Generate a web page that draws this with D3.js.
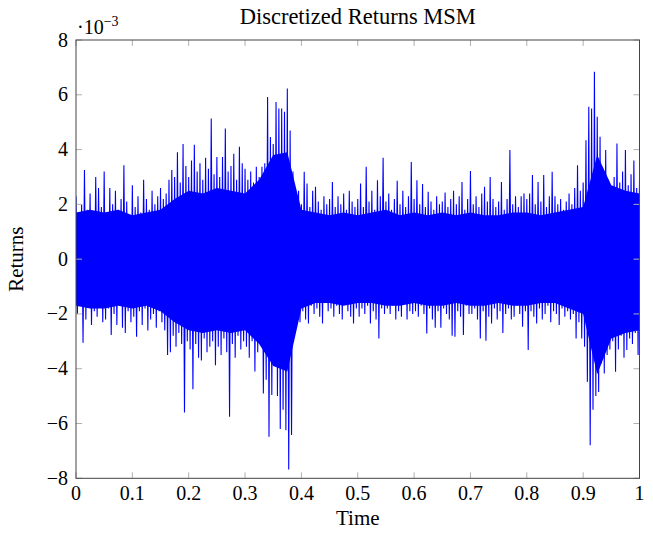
<!DOCTYPE html>
<html>
<head>
<meta charset="utf-8">
<script src="https://cdn.jsdelivr.net/npm/d3@7"></script>
<style>
  body { margin: 0; background: #fff; }
  text { font-family: "Liberation Serif", "DejaVu Serif", serif; fill: #000; }
</style>
</head>
<body>
<div id="chart-area"></div>
<script>
// upper and lower spike tips, one pair every 0.005 of time (in 1e-3 units)
var highs = [
    2.3, 1.6, 2.0, 3.25, 1.8, 2.4, 1.5, 3.0, 2.6, 1.9,
    3.2, 1.7, 2.6, 2.0, 2.5, 1.8, 2.2, 3.43, 2.1, 1.6,
    2.7, 1.9, 2.3, 1.7, 2.9, 2.2, 1.8, 2.5, 2.0, 2.3,
    2.6, 2.2, 2.4, 2.9, 3.25, 3.0, 3.9, 2.8, 4.2, 3.4,
    3.0, 3.6, 4.18, 3.2, 3.5, 2.9, 3.7, 3.3, 5.13, 3.1,
    3.73, 3.0, 3.73, 4.77, 3.2, 3.4, 3.85, 2.9, 4.1, 3.5,
    3.3, 2.9, 3.2, 2.8, 3.37, 3.0, 3.37, 3.5, 5.92, 4.46,
    4.2, 5.74, 5.5, 5.5, 5.38, 6.23, 4.7, 3.2, 2.2, 2.5,
    2.0, 3.19, 2.76, 1.9, 2.5, 2.64, 2.1, 1.8, 2.3, 2.0,
    2.2, 2.82, 1.9, 2.3, 2.0, 2.4, 1.8, 2.5, 2.1, 1.9,
    2.2, 2.76, 1.9, 3.37, 2.1, 2.5, 1.8, 2.88, 2.3, 3.7,
    2.1, 2.4, 1.8, 2.2, 2.86, 2.0, 2.5, 1.9, 2.3, 3.55,
    2.2, 2.88, 2.0, 2.74, 1.9, 2.46, 2.1, 1.8, 2.3, 2.0,
    2.1, 2.43, 1.9, 2.2, 2.5, 2.0, 2.3, 2.82, 1.8, 2.2,
    3.22, 2.0, 2.3, 1.9, 2.4, 2.64, 2.1, 3.0, 2.2, 1.9,
    2.1, 2.82, 1.8, 2.2, 3.98, 2.0, 2.3, 1.9, 2.3, 2.4,
    2.2, 2.4, 3.07, 2.0, 2.82, 2.1, 3.07, 1.9, 2.3, 3.19,
    2.3, 2.0, 2.2, 1.8, 2.1, 2.4, 2.0, 2.6, 3.43, 2.5,
    2.8, 4.34, 5.56, 5.5, 6.84, 5.2, 4.47, 3.3, 3.98, 2.9,
    2.5, 3.0, 4.22, 2.8, 3.2, 3.98, 2.7, 3.1, 3.6, 2.6, 2.9
];
var lows = [
    -2.0, -1.6, -3.05, -2.2, -1.7, -2.4, -1.9, -2.1, -1.6, -2.3,
    -2.2, -1.8, -2.77, -2.0, -2.4, -1.7, -2.5, -2.7, -1.9, -2.3,
    -2.1, -2.83, -1.9, -2.4, -1.8, -2.6, -2.2, -2.0, -2.5, -1.9,
    -2.3, -2.6, -3.5, -3.4, -2.8, -3.2, -2.7, -3.1, -5.6, -3.0,
    -3.3, -4.75, -3.1, -3.6, -3.7, -2.9, -3.4, -3.2, -3.0, -3.87,
    -3.2, -3.5, -2.9, -3.4, -5.75, -3.1, -3.6, -2.8, -3.3, -3.0,
    -3.2, -3.6, -3.0, -4.1, -3.4, -3.1, -4.9, -4.4, -6.48, -4.96,
    -3.9, -5.0, -6.2, -5.5, -6.25, -7.68, -6.42, -2.83, -2.0, -2.3,
    -1.9, -2.2, -2.35, -1.7, -2.0, -1.8, -2.1, -2.35, -1.6, -1.9,
    -1.8, -2.1, -1.7, -2.0, -2.2, -1.6, -1.9, -2.1, -2.35, -1.8,
    -2.1, -1.8, -2.0, -1.7, -2.35, -1.9, -2.2, -2.9, -1.8, -2.0,
    -1.8, -2.0, -1.7, -2.2, -1.9, -2.1, -1.6, -2.2, -1.9, -2.0,
    -1.9, -2.1, -1.7, -2.0, -2.71, -1.8, -2.2, -2.5, -1.9, -2.5,
    -1.8, -2.0, -2.2, -2.8, -2.83, -1.9, -2.1, -2.77, -1.7, -2.0,
    -2.0, -1.8, -2.2, -2.9, -1.9, -2.98, -2.1, -2.35, -1.8, -2.2,
    -1.9, -2.7, -2.0, -1.8, -2.2, -2.1, -1.7, -2.0, -2.47, -1.9,
    -3.32, -1.9, -2.1, -2.35, -1.8, -2.2, -2.0, -1.7, -2.3, -1.9,
    -2.0, -2.4, -1.8, -2.1, -1.9, -2.2, -2.0, -2.9, -2.3, -2.9,
    -3.2, -4.48, -6.79, -5.5, -5.0, -4.85, -3.8, -4.17, -3.5, -3.3,
    -3.0, -4.11, -3.3, -2.8, -3.6, -3.32, -2.9, -3.1, -2.7, -3.5, -3.0
];
// edges of the solid, densely overplotted band, every 0.025 of time
var coreHigh = [
    1.7, 1.8, 1.7, 1.8, 1.6, 1.7, 1.8, 2.2, 2.5, 2.4,
    2.6, 2.5, 2.4, 2.9, 3.8, 3.9, 1.8, 1.7, 1.6, 1.7,
    1.6, 1.7, 1.8, 1.6, 1.7, 1.6, 1.7, 1.6, 1.7, 1.6,
    1.6, 1.7, 1.7, 1.6, 1.7, 1.8, 1.9, 3.8, 2.7, 2.5, 2.4
];
var coreLow = [
    -1.7, -1.8, -1.8, -1.7, -1.8, -1.7, -1.9, -2.3, -2.6, -2.7,
    -2.6, -2.7, -2.6, -3.1, -3.9, -4.1, -1.8, -1.6, -1.6, -1.7,
    -1.6, -1.6, -1.7, -1.7, -1.6, -1.7, -1.7, -1.6, -1.7, -1.7,
    -1.6, -1.7, -1.7, -1.6, -1.6, -1.8, -2.0, -4.2, -2.9, -2.7, -2.6
];
var xTicks = [0, 0.1, 0.2, 0.3, 0.4, 0.5, 0.6, 0.7, 0.8, 0.9, 1];
var yTicks = [-8, -6, -4, -2, 0, 2, 4, 6, 8];

var width = 653, height = 534;
var plotLeft = 76, plotRight = 639.5, plotTop = 40, plotBottom = 478.3;

var svg = d3.select("#chart-area").append("svg")
    .attr("width", width)
    .attr("height", height);

var x = d3.scaleLinear().domain([0, 1]).range([plotLeft, plotRight]);
var y = d3.scaleLinear().domain([-8, 8]).range([plotBottom, plotTop]);

// zig-zag between the spike tips: high at t, low half a step later
var step = 1 / (highs.length - 1);
var points = [];
highs.forEach((h, i) => {
    points.push([i * step, h]);
    if (i < lows.length - 1) points.push([i * step + step / 2, lows[i]]);
});

var coreStep = 1 / (coreHigh.length - 1);
var core = coreHigh.map((h, i) => ({ t: i * coreStep, hi: h, lo: coreLow[i] }));

svg.append("defs").append("clipPath").attr("id", "clip")
    .append("rect")
        .attr("x", plotLeft).attr("y", plotTop)
        .attr("width", plotRight - plotLeft).attr("height", plotBottom - plotTop);

var plot = svg.append("g").attr("clip-path", "url(#clip)");

plot.append("path")
    .datum(core)
    .attr("fill", "#0000ff")
    .attr("d", d3.area()
        .x(d => x(d.t))
        .y0(d => y(d.lo))
        .y1(d => y(d.hi)));

plot.append("path")
    .datum(points)
    .attr("fill", "none")
    .attr("stroke", "#0000ff")
    .attr("stroke-width", 1.1)
    .attr("d", d3.line().x(d => x(d[0])).y(d => y(d[1])));

// ticks (inside, on all four sides)
var tickColor = "#b0b0b0";
var xt = svg.append("g");
xTicks.forEach(t => {
    xt.append("line").attr("x1", x(t)).attr("x2", x(t)).attr("y1", plotBottom).attr("y2", plotBottom - 6)
        .attr("stroke", tickColor);
    xt.append("line").attr("x1", x(t)).attr("x2", x(t)).attr("y1", plotTop).attr("y2", plotTop + 6)
        .attr("stroke", tickColor);
    xt.append("text").attr("x", x(t)).attr("y", 500)
        .attr("text-anchor", "middle").attr("font-size", 20)
        .text(d3.format("")(t));
});
var yt = svg.append("g");
yTicks.forEach(v => {
    yt.append("line").attr("x1", plotLeft).attr("x2", plotLeft + 6).attr("y1", y(v)).attr("y2", y(v))
        .attr("stroke", tickColor);
    yt.append("line").attr("x1", plotRight).attr("x2", plotRight - 6).attr("y1", y(v)).attr("y2", y(v))
        .attr("stroke", tickColor);
    yt.append("text").attr("x", 68).attr("y", y(v) + 6.5)
        .attr("text-anchor", "end").attr("font-size", 20)
        .text(v < 0 ? "\u2212" + Math.abs(v) : v);
});

// frame
svg.append("rect")
    .attr("x", plotLeft).attr("y", plotTop)
    .attr("width", plotRight - plotLeft).attr("height", plotBottom - plotTop)
    .attr("fill", "none")
    .attr("stroke", "#444")
    .attr("stroke-width", 1);

// scale factor label
var sf = svg.append("text").attr("x", 77).attr("y", 34).attr("font-size", 20);
sf.append("tspan").text("\u00b710");
sf.append("tspan").attr("dy", -8).attr("font-size", 14).text("\u22123");

svg.append("text")
    .attr("x", (plotLeft + plotRight) / 2).attr("y", 24)
    .attr("text-anchor", "middle").attr("font-size", 22.5)
    .text("Discretized Returns MSM");

svg.append("text")
    .attr("x", (plotLeft + plotRight) / 2).attr("y", 525)
    .attr("text-anchor", "middle").attr("font-size", 21)
    .text("Time");

svg.append("text")
    .attr("transform", "translate(23," + (plotTop + plotBottom) / 2 + ") rotate(-90)")
    .attr("text-anchor", "middle").attr("font-size", 21)
    .text("Returns");
</script>
</body>
</html>
